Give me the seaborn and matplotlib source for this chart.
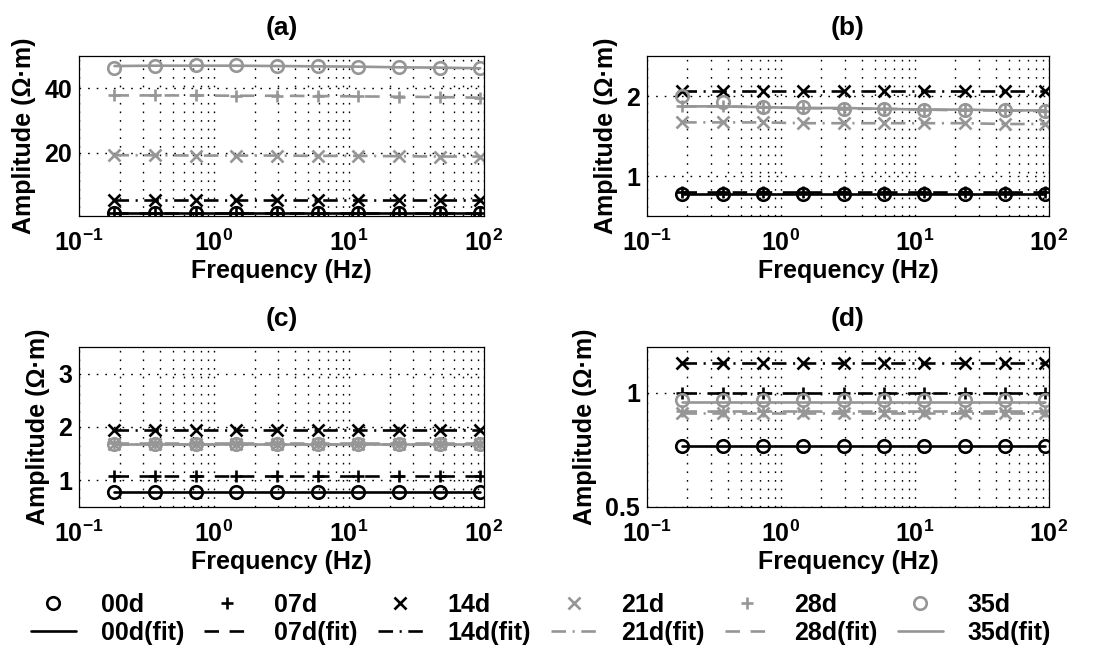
import matplotlib
matplotlib.use("Agg")
import matplotlib.pyplot as plt
import seaborn as sns
from matplotlib.ticker import LogLocator, FixedLocator, NullFormatter, FuncFormatter

# ---------------- data ----------------
freq = [0.1831, 0.3662, 0.7324, 1.4648, 2.9297, 5.8594, 11.719, 23.438, 46.875, 93.75]
series = ["00d", "07d", "14d", "21d", "28d", "35d"]
fit_labels = ["00d(fit)", "07d(fit)", "14d(fit)", "21d(fit)", "28d(fit)", "35d(fit)"]
panel_titles = ["(a)", "(b)", "(c)", "(d)"]

# panel (a) measured / fitted amplitudes
obs_a_00d = [1.3, 1.3, 1.3, 1.3, 1.3, 1.3, 1.3, 1.3, 1.3, 1.3]
obs_a_07d = [1.45, 1.45, 1.45, 1.45, 1.45, 1.45, 1.45, 1.45, 1.45, 1.45]
obs_a_14d = [5.5, 5.5, 5.5, 5.5, 5.5, 5.5, 5.5, 5.5, 5.5, 5.5]
obs_a_21d = [19.3, 19.3, 19.2, 19.2, 19.2, 19.1, 19.1, 19.0, 18.9, 18.9]
obs_a_28d = [37.8, 37.8, 37.8, 37.7, 37.7, 37.6, 37.5, 37.4, 37.3, 37.1]
obs_a_35d = [46.2, 47.0, 47.1, 47.1, 47.0, 46.9, 46.7, 46.5, 46.4, 46.2]
fit_a_35d = [46.9, 47.0, 47.0, 47.0, 46.9, 46.8, 46.7, 46.5, 46.4, 46.2]

# panel (b)
obs_b_00d = [0.78, 0.78, 0.78, 0.78, 0.78, 0.78, 0.78, 0.78, 0.78, 0.78]
obs_b_07d = [0.80, 0.80, 0.80, 0.80, 0.80, 0.80, 0.80, 0.80, 0.80, 0.80]
obs_b_14d = [2.06, 2.06, 2.06, 2.06, 2.06, 2.06, 2.06, 2.06, 2.06, 2.06]
obs_b_21d = [1.67, 1.67, 1.67, 1.66, 1.66, 1.66, 1.66, 1.66, 1.65, 1.65]
obs_b_28d = [1.87, 1.87, 1.86, 1.85, 1.84, 1.84, 1.83, 1.82, 1.82, 1.81]
obs_b_35d = [2.00, 1.93, 1.86, 1.86, 1.84, 1.84, 1.83, 1.82, 1.82, 1.81]
fit_b_35d = [1.87, 1.87, 1.86, 1.85, 1.85, 1.84, 1.83, 1.83, 1.82, 1.82]

# panel (c)
obs_c_00d = [0.78, 0.78, 0.78, 0.78, 0.78, 0.78, 0.78, 0.78, 0.78, 0.78]
obs_c_07d = [1.08, 1.08, 1.08, 1.08, 1.08, 1.08, 1.08, 1.08, 1.08, 1.08]
obs_c_14d = [1.95, 1.95, 1.95, 1.95, 1.95, 1.95, 1.95, 1.95, 1.95, 1.95]
obs_c_21d = [1.68, 1.68, 1.68, 1.68, 1.68, 1.68, 1.68, 1.68, 1.68, 1.68]
obs_c_28d = [1.70, 1.70, 1.70, 1.70, 1.70, 1.70, 1.70, 1.70, 1.70, 1.70]
obs_c_35d = [1.69, 1.69, 1.69, 1.69, 1.69, 1.69, 1.69, 1.69, 1.69, 1.69]

# panel (d)
obs_d_00d = [0.765, 0.765, 0.765, 0.765, 0.765, 0.765, 0.765, 0.765, 0.765, 0.765]
obs_d_07d = [1.0, 1.0, 1.0, 1.0, 1.0, 1.0, 1.0, 1.0, 1.0, 1.0]
obs_d_14d = [1.13, 1.13, 1.13, 1.13, 1.13, 1.13, 1.13, 1.13, 1.13, 1.13]
obs_d_21d = [0.91, 0.91, 0.91, 0.91, 0.91, 0.91, 0.91, 0.91, 0.91, 0.91]
obs_d_28d = [0.92, 0.92, 0.92, 0.92, 0.92, 0.92, 0.92, 0.92, 0.92, 0.92]
obs_d_35d = [0.966, 0.966, 0.966, 0.966, 0.966, 0.966, 0.966, 0.966, 0.966, 0.966]
fit_d_35d = [0.96, 0.96, 0.96, 0.96, 0.96, 0.96, 0.96, 0.96, 0.96, 0.96]

obs_a = [obs_a_00d, obs_a_07d, obs_a_14d, obs_a_21d, obs_a_28d, obs_a_35d]
fit_a = [obs_a_00d, obs_a_07d, obs_a_14d, obs_a_21d, obs_a_28d, fit_a_35d]
obs_b = [obs_b_00d, obs_b_07d, obs_b_14d, obs_b_21d, obs_b_28d, obs_b_35d]
fit_b = [obs_b_00d, obs_b_07d, obs_b_14d, obs_b_21d, obs_b_28d, fit_b_35d]
obs_c = [obs_c_00d, obs_c_07d, obs_c_14d, obs_c_21d, obs_c_28d, obs_c_35d]
fit_c = obs_c
obs_d = [obs_d_00d, obs_d_07d, obs_d_14d, obs_d_21d, obs_d_28d, obs_d_35d]
fit_d = [obs_d_00d, obs_d_07d, obs_d_14d, obs_d_21d, obs_d_28d, fit_d_35d]

yticks = [[20, 40], [1, 2], [1, 2, 3], [0.5, 1]]
ylims = [(0.5, 50), (0.5, 2.5), (0.5, 3.5), (0.5, 1.2)]

# ---------------- style ----------------
sns.set_theme(style="white")
plt.rcParams["font.family"] = ["Liberation Sans", "DejaVu Sans"]
plt.rcParams["font.weight"] = "bold"
plt.rcParams["axes.labelweight"] = "bold"
plt.rcParams["axes.titleweight"] = "bold"
plt.rcParams["text.color"] = "black"
plt.rcParams["axes.labelcolor"] = "black"
plt.rcParams["xtick.color"] = "black"
plt.rcParams["ytick.color"] = "black"
plt.rcParams["mathtext.fontset"] = "custom"
plt.rcParams["mathtext.rm"] = "Liberation Sans:bold"
plt.rcParams["mathtext.it"] = "Liberation Sans:bold"
plt.rcParams["mathtext.bf"] = "Liberation Sans:bold"
plt.rcParams["mathtext.default"] = "rm"

BLACK = "#000000"
GRAY = "#969696"
colors = [BLACK, BLACK, BLACK, GRAY, GRAY, GRAY]
markers = ["o", "+", "x", "x", "+", "o"]
line_dashes = ["solid", (0, (5.5, 4)), (0, (5.5, 2.5, 0.8, 2.5)),
               (0, (5.5, 2.5, 0.8, 2.5)), (0, (5.5, 4)), "solid"]

FS = 18
LW = 1.9
MS = 9
MEW = 1.9

fig = plt.figure(figsize=(11.13, 6.59), dpi=100)
positions = [
    [79 / 1113, 1 - 216 / 659, 405 / 1113, 160 / 659],
    [647 / 1113, 1 - 216 / 659, 402 / 1113, 160 / 659],
    [79 / 1113, 1 - 507 / 659, 405 / 1113, 160 / 659],
    [647 / 1113, 1 - 507 / 659, 402 / 1113, 160 / 659],
]
obs_all = [obs_a, obs_b, obs_c, obs_d]
fit_all = [fit_a, fit_b, fit_c, fit_d]

handles = {}
for p in range(4):
    ax = fig.add_axes(positions[p])
    for i in range(6):
        sns.lineplot(x=freq, y=fit_all[p][i], ax=ax, color=colors[i],
                     linestyle=line_dashes[i], linewidth=LW, label=fit_labels[i],
                     legend=False)
        sns.lineplot(x=freq, y=obs_all[p][i], ax=ax, color=colors[i],
                     linestyle="none", marker=markers[i], markersize=MS,
                     markeredgewidth=MEW, markeredgecolor=colors[i],
                     markerfacecolor="none", label=series[i], legend=False)
    if p == 0:
        for ln in ax.get_lines():
            handles[ln.get_label()] = ln
    ax.set_xscale("log")
    ax.set_xlim(0.1, 100)
    ax.set_ylim(*ylims[p])
    ax.xaxis.set_major_locator(LogLocator(base=10, numticks=10))
    ax.xaxis.set_minor_locator(LogLocator(base=10, subs=range(2, 10), numticks=20))
    ax.xaxis.set_minor_formatter(NullFormatter())
    ax.yaxis.set_major_locator(FixedLocator(yticks[p]))
    ax.yaxis.set_major_formatter(FuncFormatter(lambda v, pos: f"{v:g}"))
    ax.grid(True, which="major", axis="both", color="black",
            linestyle=(0, (1.2, 5)), linewidth=1.0)
    ax.grid(True, which="minor", axis="x", color="black",
            linestyle=(0, (1.2, 5)), linewidth=1.0)
    ax.set_axisbelow(True)
    for s in ax.spines.values():
        s.set_color("black")
        s.set_linewidth(0.9)
    ax.tick_params(axis="both", which="both", direction="in", length=0,
                   labelsize=FS, colors="black")
    ax.tick_params(axis="x", pad=10)
    ax.tick_params(axis="y", pad=5)
    ax.set_xlabel("Frequency (Hz)", fontsize=FS, fontweight="bold", labelpad=2)
    ax.set_ylabel("Amplitude (Ω·m)", fontsize=FS, fontweight="bold", labelpad=6)
    ax.set_title(panel_titles[p], fontsize=FS + 1, fontweight="bold", pad=15)

order_h, order_l = [], []
for i in range(6):
    order_h += [handles[series[i]], handles[fit_labels[i]]]
    order_l += [series[i], fit_labels[i]]

fig.legend(order_h, order_l, ncol=6, loc="center",
           bbox_to_anchor=(541 / 1113, 1 - 619 / 659), frameon=False,
           handlelength=1.8, handletextpad=1.0,
           columnspacing=0.8, labelspacing=0.15, numpoints=1,
           prop={"weight": "bold", "size": FS})

fig.savefig("out.png", dpi=100)
